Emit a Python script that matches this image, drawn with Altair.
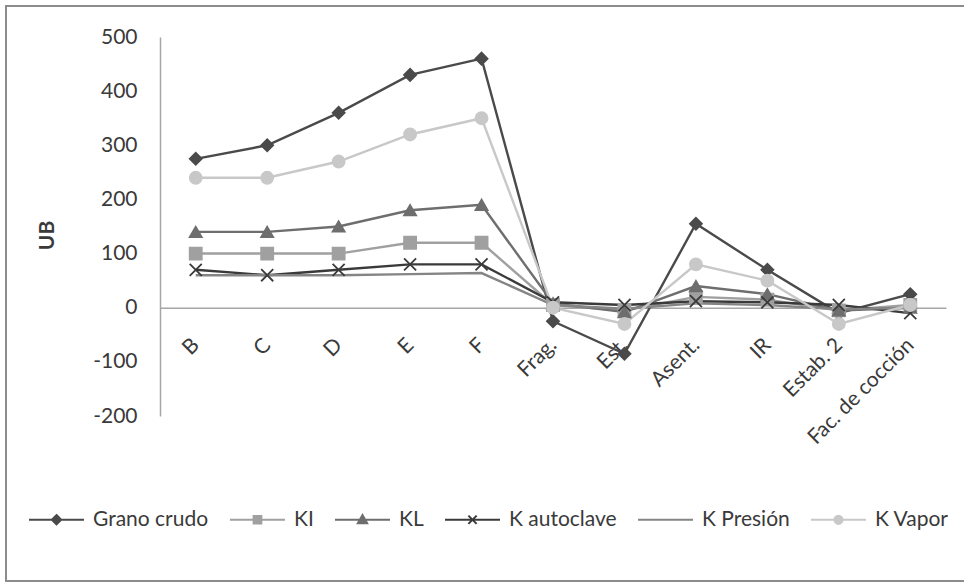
import altair as alt
import pandas as pd

categories = ["B", "C", "D", "E", "F", "Frag.", "Est.", "Asent.", "IR", "Estab. 2", "Fac. de cocción"]
series_names = ["Grano crudo", "KI", "KL", "K autoclave", "K Presión", "K Vapor"]

grano_crudo = [275, 300, 360, 430, 460, -25, -85, 155, 70, -10, 25]
ki = [100, 100, 100, 120, 120, 5, -5, 20, 15, -5, 5]
kl = [140, 140, 150, 180, 190, 8, -8, 40, 25, -5, 0]
k_autoclave = [70, 60, 70, 80, 80, 10, 5, 12, 10, 5, -10]
k_presion = [60, 60, 60, 62, 64, 5, -2, 8, 5, -3, 0]
k_vapor = [240, 240, 270, 320, 350, 0, -30, 80, 50, -30, 5]

series_values = [grano_crudo, ki, kl, k_autoclave, k_presion, k_vapor]
series_colors = ["#4a4a4a", "#a0a0a0", "#6e6e6e", "#3a3a3a", "#858585", "#c8c8c8"]

rows = []
for name, vals in zip(series_names, series_values):
    for i, (c, v) in enumerate(zip(categories, vals)):
        rows.append({"cat": c, "series": name, "value": v, "order": i})
df = pd.DataFrame(rows)

FONT = "Lato"
TXT = "#3a3a3a"
W, H = 786, 379
Y_MIN, Y_MAX = -200, 500

x_enc = alt.X("cat:N", sort=categories, scale=alt.Scale(domain=categories, padding=0.5),
              axis=alt.Axis(title=None, labelAngle=-45, labelAlign="right", labelBaseline="middle",
                            labelPadding=34, ticks=False, tickSize=0, domainColor="#a6a6a6",
                            domainWidth=1.5, labelFont=FONT, labelFontSize=21, labelColor=TXT,
                            offset=-H * (0 - Y_MIN) / (Y_MAX - Y_MIN), grid=False))
y_enc = alt.Y("value:Q", scale=alt.Scale(domain=[Y_MIN, Y_MAX], nice=False, zero=False),
              axis=alt.Axis(title="UB", values=list(range(-200, 501, 100)), ticks=False, tickSize=0,
                            labelExpr="'' + datum.value",
                            labelPadding=23, labelFont=FONT, labelFontSize=21, labelColor=TXT,
                            domainColor="#a6a6a6", domainWidth=1.5, grid=False,
                            titleFont=FONT, titleFontSize=21, titleFontWeight="bold", titleColor=TXT,
                            titleAngle=-90, titleX=-113, titleY=198, titleAlign="center",
                            titleBaseline="middle"))

color_scale = alt.Scale(domain=series_names, range=series_colors)

lines = alt.Chart(df).mark_line(strokeWidth=2.4).encode(
    x=x_enc, y=y_enc,
    color=alt.Color("series:N", scale=color_scale, legend=None),
    order="order:Q",
)

marker_names = ["Grano crudo", "KI", "KL", "K autoclave", "K Vapor"]
marker_shapes = ["diamond", "square", "triangle-up", "M-1,-1L1,1M-1,1L1,-1", "circle"]
marker_colors = ["#4a4a4a", "#a0a0a0", "#6e6e6e", "#3a3a3a", "#c8c8c8"]
mk_scale = alt.Scale(domain=marker_names, range=marker_colors)

points = alt.Chart(df).transform_filter("datum.series != 'K Presión'").mark_point(
    filled=True, size=145, strokeWidth=1.8, opacity=1
).encode(
    x=x_enc, y=y_enc,
    shape=alt.Shape("series:N", scale=alt.Scale(domain=marker_names, range=marker_shapes), legend=None),
    fill=alt.Fill("series:N", scale=mk_scale, legend=None),
    stroke=alt.Stroke("series:N", scale=mk_scale, legend=None),
)

legend_paths = [
    "M-1,0L1,0M0,-0.17L0.17,0L0,0.17L-0.17,0Z",
    "M-1,0L1,0M-0.14,-0.14L0.14,-0.14L0.14,0.14L-0.14,0.14Z",
    "M-1,0L1,0M0,-0.17L0.17,0.13L-0.17,0.13Z",
    "M-1,0L1,0M-0.15,-0.15L0.15,0.15M-0.15,0.15L0.15,-0.15",
    "M-1,0L1,0",
    "M-1,0L1,0M0.15,0A0.15,0.15,0,1,1,-0.15,0A0.15,0.15,0,1,1,0.15,0Z",
]

legend_layer = alt.Chart(df).transform_filter("false").mark_point(
    filled=True, strokeWidth=2, opacity=1
).encode(
    x=x_enc, y=y_enc,
    shape=alt.Shape("series:N", scale=alt.Scale(domain=series_names, range=legend_paths),
                    legend=alt.Legend(title=None, orient="none", legendX=-132, legendY=454,
                                      direction="horizontal", columns=6, symbolSize=3025,
                                      symbolStrokeWidth=2, labelFont=FONT, labelFontSize=21,
                                      labelColor=TXT, labelOffset=8, columnPadding=17,
                                      padding=0, labelLimit=0)),
    fill=alt.Fill("series:N", scale=color_scale),
    stroke=alt.Stroke("series:N", scale=color_scale),
)

border = alt.Chart(pd.DataFrame({"a": [0]})).mark_rect(
    fillOpacity=0, stroke="#8c8c8c", strokeWidth=2
).encode(
    x=alt.value(-154), x2=alt.value(W + 30), y=alt.value(-31), y2=alt.value(544)
)

chart = alt.layer(border, lines, points, legend_layer).resolve_scale(
    shape="independent", fill="independent", stroke="independent"
).resolve_legend(
    shape="independent", fill="independent", stroke="independent"
).properties(
    width=W, height=H,
    autosize=alt.AutoSizeParams(type="none"),
    padding={"left": 160, "top": 37, "right": 18, "bottom": 167},
    background="white",
).configure_view(stroke=None)

chart.save("out.html", embed_options={"renderer": "svg", "actions": False})
